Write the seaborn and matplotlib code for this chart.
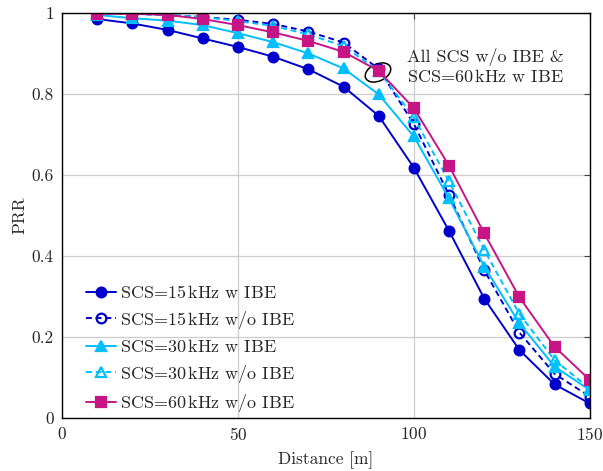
import numpy as np
import pandas as pd
import matplotlib
matplotlib.use("Agg")
import matplotlib.pyplot as plt
import matplotlib.transforms as mtransforms
from matplotlib.patches import Ellipse
import seaborn as sns

# Data
distance = [10, 20, 30, 40, 50, 60, 70, 80, 90, 100, 110, 120, 130, 140, 150]
scs15_ibe = [0.985, 0.974, 0.958, 0.937, 0.916, 0.892, 0.861, 0.818, 0.746, 0.618, 0.462, 0.295, 0.168, 0.083, 0.036]
scs15_noibe = [1.0, 0.998, 0.995, 0.99, 0.983, 0.973, 0.954, 0.927, 0.862, 0.726, 0.551, 0.365, 0.211, 0.109, 0.053]
scs30_ibe = [0.995, 0.987, 0.981, 0.970, 0.950, 0.928, 0.900, 0.863, 0.799, 0.695, 0.542, 0.374, 0.234, 0.127, 0.069]
scs30_noibe = [1.0, 0.998, 0.995, 0.99, 0.98, 0.968, 0.947, 0.918, 0.857, 0.742, 0.584, 0.415, 0.257, 0.143, 0.073]
scs60_noibe = [0.998, 0.998, 0.995, 0.985, 0.970, 0.952, 0.931, 0.904, 0.857, 0.765, 0.623, 0.456, 0.298, 0.176, 0.094]

labels = ["SCS=15$\\,$kHz w IBE", "SCS=15$\\,$kHz w/o IBE", "SCS=30$\\,$kHz w IBE",
          "SCS=30$\\,$kHz w/o IBE", "SCS=60$\\,$kHz w/o IBE"]

dark_blue = "#0000CC"
light_blue = "#00BFFF"
magenta = "#C71585"

sns.set_style("white")
plt.rcParams['font.family'] = 'serif'
plt.rcParams['font.serif'] = ['cmr10', 'DejaVu Serif']
plt.rcParams['mathtext.fontset'] = 'cm'
plt.rcParams['axes.formatter.use_mathtext'] = True

fig = plt.figure(figsize=(6.03, 4.71), dpi=100)
ax = fig.add_axes([0.103, 0.1125, 0.875, 0.86])

series = [
    (scs15_ibe, dark_blue, 'o', '-', True),
    (scs15_noibe, dark_blue, 'o', (0, (3, 2)), False),
    (scs30_ibe, light_blue, '^', '-', True),
    (scs30_noibe, light_blue, '^', (0, (3, 2)), False),
    (scs60_noibe, magenta, 's', '-', True),
]

for (vals, col, mk, ls, filled), lab in zip(series, labels):
    sns.lineplot(x=distance, y=vals, ax=ax, color=col, marker=mk, linestyle=ls,
                 linewidth=1.4, markersize=7 if mk == 'o' else 7.5,
                 markerfacecolor=col if filled else 'none',
                 markeredgecolor=col, markeredgewidth=1.6, label=lab)

ax.set_xlim(0, 150)
ax.set_ylim(0, 1)
ax.set_xticks([0, 50, 100, 150])
ax.set_yticks([0, 0.2, 0.4, 0.6, 0.8, 1])
ax.set_yticklabels(["0", "0.2", "0.4", "0.6", "0.8", "1"])
ax.grid(True, color="#cccccc", linewidth=0.9)
ax.tick_params(direction='in', length=4, labelsize=12.5, color='#444444',
               top=True, right=True, pad=6)
for sp in ax.spines.values():
    sp.set_color('black')
    sp.set_linewidth(1.0)
ax.set_xlabel("Distance [m]", fontsize=12.5, labelpad=6)
ax.set_ylabel("PRR", fontsize=12.5, labelpad=3)

# ellipse marking the common point
trans = fig.dpi_scale_trans + mtransforms.ScaledTranslation(89.8, 0.853, ax.transData)
ax.add_patch(Ellipse((0, 0), 0.27, 0.17, angle=25, fill=False, edgecolor='black',
                     linewidth=1.1, transform=trans, clip_on=False))
ax.text(98, 0.868, "All SCS w/o IBE &\nSCS=60$\\,$kHz w IBE", fontsize=13,
        va='center', ha='left', linespacing=1.15)

leg = ax.legend(loc='lower left', frameon=False, fontsize=13, handlelength=1.65,
                labelspacing=0.42, handletextpad=0.25, borderaxespad=0, borderpad=0,
                bbox_to_anchor=(0.045, 0.009))

fig.savefig("out.png", dpi=100)
